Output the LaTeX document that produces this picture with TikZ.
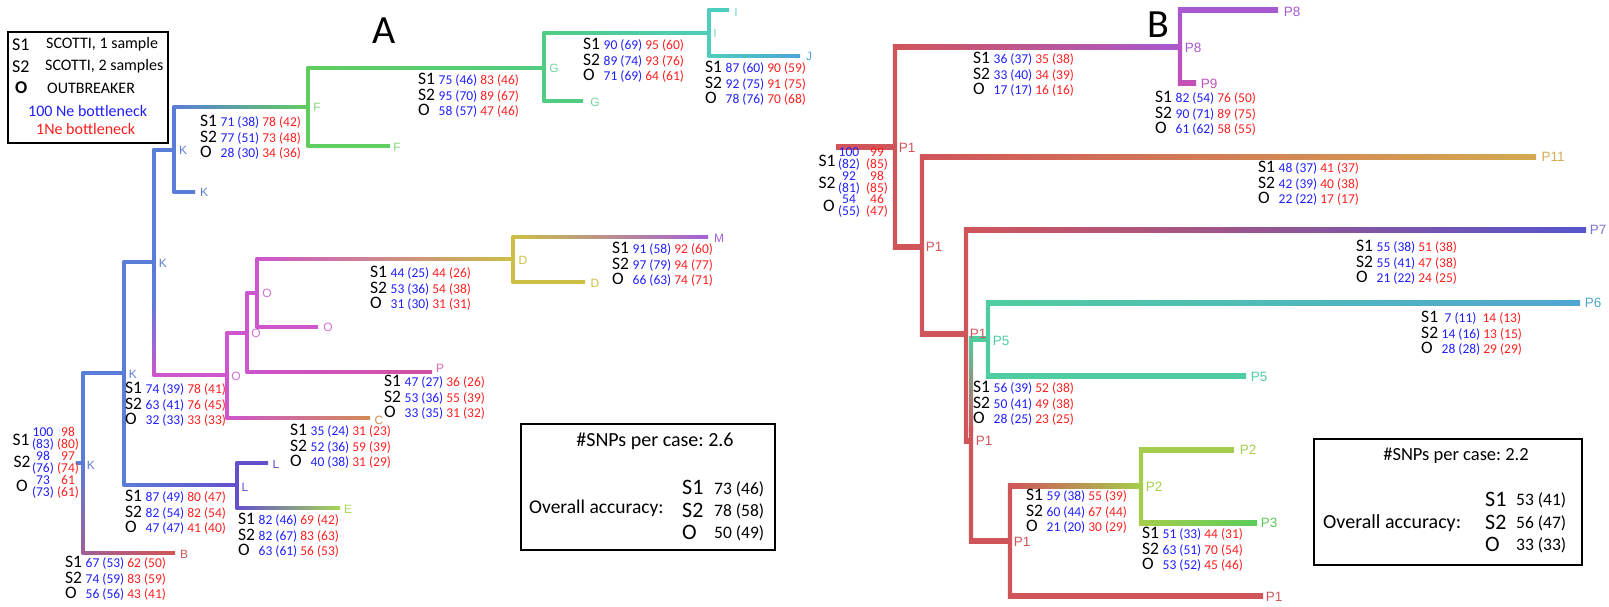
\documentclass[tikz,border=0pt]{standalone}
\usepackage{fontspec}
\setmainfont{Carlito}
\newfontfamily\arialf{Liberation Sans}
\frenchspacing
\definecolor{nblue}{RGB}{30,30,255}
\definecolor{nred}{RGB}{255,30,30}
\definecolor{kblue}{RGB}{90,125,215}
\definecolor{fgreen}{RGB}{95,205,95}
\definecolor{ggreen}{RGB}{80,205,130}
\definecolor{iteal}{RGB}{78,205,190}
\definecolor{jblue}{RGB}{75,165,215}
\definecolor{omag}{RGB}{205,85,205}
\definecolor{dyel}{RGB}{205,190,70}
\definecolor{mpur}{RGB}{165,95,215}
\definecolor{ppink}{RGB}{210,80,160}
\definecolor{corange}{RGB}{210,140,85}
\definecolor{lpur}{RGB}{100,80,205}
\definecolor{egreen}{RGB}{165,215,85}
\definecolor{bred}{RGB}{210,85,85}
\definecolor{bmauve}{RGB}{160,95,150}
\definecolor{p1red}{RGB}{208,85,90}
\definecolor{p8pur}{RGB}{168,88,208}
\definecolor{p9mag}{RGB}{195,80,180}
\definecolor{p11gold}{RGB}{212,170,80}
\definecolor{p7blue}{RGB}{85,85,205}
\definecolor{p6blue}{RGB}{80,165,210}
\definecolor{p5teal}{RGB}{80,205,160}
\definecolor{p2yg}{RGB}{165,205,75}
\definecolor{p3green}{RGB}{90,205,90}
\newcommand\kk[1]{\makebox[20.5pt][l]{\fontsize{17.5}{17}\selectfont #1}}
\newcommand\bl[1]{{\color{nblue}#1}}
\newcommand\rd[1]{{\color{nred}#1}}
\newcommand\stat[9]{%
 \node[st] (#1a) at (#2,#3+5.5) {\kk{S1}\bl{#4} \rd{#5}};
 \node[st] (#1b) at (#2,#3+21) {\kk{S2}\bl{#6} \rd{#7}};
 \node[st] (#1c) at (#2,#3+36.5) {\kk{O}\bl{#8} \rd{#9}};}
\newcommand\hb[6]{\shade[left color=#5,right color=#6] (#1,#3-#4/2) rectangle (#2,#3+#4/2);}
\newcommand\vb[6]{\shade[top color=#5,bottom color=#6] (#1-#4/2,#2-#4/2) rectangle (#1+#4/2,#3+#4/2);}
\tikzset{
 st/.style={anchor=base west,inner sep=0pt,font=\fontsize{13.5}{14}\selectfont},
 key/.style={inner sep=0pt,font=\fontsize{17.5}{17}\selectfont},
 stk/.style={inner sep=0pt,align=center,font=\fontsize{13.5}{12}\selectfont},
 nla/.style={inner sep=0pt,font=\arialf\fontsize{12}{12}\selectfont},
 nlb/.style={inner sep=0pt,font=\arialf\fontsize{13.5}{13.5}\selectfont},
 box/.style={draw=black,line width=2pt},
 lgt/.style={anchor=west,inner sep=0pt,font=\fontsize{16}{16}\selectfont},
}
\begin{document}
\begin{tikzpicture}[x=1pt,y=-1pt]
\useasboundingbox (0,0) rectangle (1609,606);
\def\wa{3}
\def\wb{4.2}
% ---------------- Panel A ----------------
\node (tA) at (384,31) {\fontsize{40}{40}\selectfont A};
% legend
\draw[box] (8,32) rectangle (168,143);
\node[key,anchor=west,font=\fontsize{18}{18}\selectfont] (lg1) at (12,45) {S1};
\node[key,anchor=west,font=\fontsize{18}{18}\selectfont] (lg2) at (12,67) {S2};
\node[key,anchor=west,font=\fontsize{18}{18}\selectfont] (lg3) at (15,88) {\bfseries O};
\node[lgt] (lt1) at (46,44) {SCOTTI, 1 sample};
\node[lgt] (lt2) at (45,66) {SCOTTI, 2 samples};
\node[lgt] (lt3) at (47,88) {OUTBREAKER};
\node[lgt,text=nblue] (lt4) at (28,111) {100 Ne bottleneck};
\node[lgt,text=nred] (lt5) at (36,129) {1Ne bottleneck};
% branches A
\hb{76}{83}{463}{\wa}{kblue}{kblue}
\vb{83}{373}{463}{\wa}{kblue}{kblue}
\vb{83}{463}{553}{\wa}{kblue}{bmauve}
\hb{83}{175}{553}{\wa}{bmauve}{bred}
\hb{83}{124}{373}{\wa}{kblue}{kblue}
\vb{124}{262}{485}{\wa}{kblue}{kblue}
\hb{124}{154}{262}{\wa}{kblue}{kblue}
\vb{154}{150}{300}{\wa}{kblue}{kblue}
\vb{154}{300}{375}{\wa}{kblue}{omag}
\hb{154}{227}{375}{\wa}{omag}{omag}
\hb{154}{174}{150}{\wa}{kblue}{kblue}
\vb{174}{107}{192}{\wa}{kblue}{kblue}
\hb{174}{195}{192}{\wa}{kblue}{kblue}
\hb{174}{308}{107}{\wa}{kblue}{fgreen}
\vb{308}{68}{146}{\wa}{fgreen}{fgreen}
\hb{308}{390}{146}{\wa}{fgreen}{fgreen}
\hb{308}{544}{68}{\wa}{fgreen}{ggreen}
\vb{544}{33}{101}{\wa}{ggreen}{ggreen}
\hb{544}{583}{101}{\wa}{ggreen}{ggreen}
\hb{544}{709}{33}{\wa}{ggreen}{iteal}
\vb{709}{10}{56}{\wa}{iteal}{iteal}
\hb{709}{729}{10}{\wa}{iteal}{iteal}
\hb{709}{800}{56}{\wa}{iteal}{jblue}
\vb{227}{333}{418}{\wa}{omag}{omag}
\hb{227}{370}{418}{\wa}{omag}{corange}
\hb{227}{247}{333}{\wa}{omag}{omag}
\vb{247}{293}{372}{\wa}{omag}{omag}
\hb{247}{432}{372}{\wa}{omag}{ppink}
\hb{247}{257}{293}{\wa}{omag}{omag}
\vb{257}{259}{327}{\wa}{omag}{omag}
\hb{257}{318}{327}{\wa}{omag}{omag}
\hb{257}{513}{259}{\wa}{omag}{dyel}
\vb{513}{237}{282}{\wa}{dyel}{dyel}
\hb{513}{585}{282}{\wa}{dyel}{dyel}
\hb{513}{708}{237}{\wa}{dyel}{mpur}
\hb{124}{237}{485}{\wa}{kblue}{lpur}
\vb{237}{463}{508}{\wa}{lpur}{lpur}
\hb{237}{268}{463}{\wa}{lpur}{lpur}
\hb{237}{340}{508}{\wa}{lpur}{egreen}
% node labels A
\node[nla,text=kblue] (nK1) at (91,465) {K};
\node[nla,text=kblue] (nK2) at (133,374) {K};
\node[nla,text=kblue] (nK3) at (163,263) {K};
\node[nla,text=kblue] (nK4) at (183,150) {K};
\node[nla,text=kblue] (nK5) at (204,192) {K};
\node[nla,text=fgreen!80] (nF1) at (317,107) {F};
\node[nla,text=fgreen!80] (nF2) at (397,147) {F};
\node[nla,text=ggreen!80] (nG1) at (554,68) {G};
\node[nla,text=ggreen!80] (nG2) at (595,102) {G};
\node[nla,text=iteal!80] (nI1) at (715,33) {I};
\node[nla,text=iteal!80] (nI2) at (736,12) {I};
\node[nla,text=jblue] (nJ) at (809,56) {J};
\node[nla,text=omag!85] (nO1) at (236,376) {O};
\node[nla,text=omag!85] (nO2) at (256,333) {O};
\node[nla,text=omag!85] (nO3) at (267,293) {O};
\node[nla,text=omag!85] (nO4) at (328,327) {O};
\node[nla,text=ppink!85] (nP) at (440,368) {P};
\node[nla,text=corange] (nC) at (379,420) {C};
\node[nla,text=dyel] (nD1) at (523,260) {D};
\node[nla,text=dyel] (nD2) at (595,283) {D};
\node[nla,text=mpur] (nM) at (719,238) {M};
\node[nla,text=lpur] (nL1) at (276,464) {L};
\node[nla,text=lpur] (nL2) at (245,487) {L};
\node[nla,text=egreen] (nE) at (348,509) {E};
\node[nla,text=bred] (nB) at (184,554) {B};
% stats A
\stat{sF}{200}{121}{71 (38)}{78 (42)}{77 (51)}{73 (48)}{28 (30)}{34 (36)}
\stat{sG}{418}{79}{75 (46)}{83 (46)}{95 (70)}{89 (67)}{58 (57)}{47 (46)}
\stat{sI}{583}{44}{90 (69)}{95 (60)}{89 (74)}{93 (76)}{71 (69)}{64 (61)}
\stat{sJ}{705}{67}{87 (60)}{90 (59)}{92 (75)}{91 (75)}{78 (76)}{70 (68)}
\stat{sD}{370}{272}{44 (25)}{44 (26)}{53 (36)}{54 (38)}{31 (30)}{31 (31)}
\stat{sM}{612}{248}{91 (58)}{92 (60)}{97 (79)}{94 (77)}{66 (63)}{74 (71)}
\stat{sP}{384}{381}{47 (27)}{36 (26)}{53 (36)}{55 (39)}{33 (35)}{31 (32)}
\stat{sO}{125}{388}{74 (39)}{78 (41)}{63 (41)}{76 (45)}{32 (33)}{33 (33)}
\stat{sC}{290}{430}{35 (24)}{31 (23)}{52 (36)}{59 (39)}{40 (38)}{31 (29)}
\stat{sL}{125}{496}{87 (49)}{80 (47)}{82 (54)}{82 (54)}{47 (47)}{41 (40)}
\stat{sE}{238}{519}{82 (46)}{69 (42)}{82 (67)}{83 (63)}{63 (61)}{56 (53)}
\stat{sB}{65}{562}{67 (53)}{62 (50)}{74 (59)}{83 (59)}{56 (56)}{43 (41)}
% root A
\node[key] (rA1) at (21,440) {S1};
\node[key] (rA2) at (22,462) {S2};
\node[key] (rA3) at (22,486) {O};
\node[stk,text=nblue] (rA1b) at (43,439) {100\\(83)};
\node[stk,text=nred] (rA1r) at (68,439) {98\\(80)};
\node[stk,text=nblue] (rA2b) at (43,463) {98\\(76)};
\node[stk,text=nred] (rA2r) at (68,463) {97\\(74)};
\node[stk,text=nblue] (rA3b) at (43,487) {73\\(73)};
\node[stk,text=nred] (rA3r) at (68,487) {61\\(61)};
% accuracy A
\draw[box] (521,424) rectangle (775,550);
\node[inner sep=0pt,font=\fontsize{20}{20}\selectfont] (aA1) at (655,441) {\#SNPs per case: 2.6};
\node[inner sep=0pt,anchor=west,font=\fontsize{19.5}{20}\selectfont] (aA2) at (529,508) {Overall accuracy:};
\node[inner sep=0pt,anchor=west,font=\fontsize{22}{22}\selectfont] (aA3) at (682,487) {S1};
\node[inner sep=0pt,anchor=west,font=\fontsize{22}{22}\selectfont] (aA4) at (682,510) {S2};
\node[inner sep=0pt,anchor=west,font=\fontsize{22}{22}\selectfont] (aA5) at (682,532) {O};
\node[inner sep=0pt,anchor=west,font=\fontsize{17.5}{17.5}\selectfont] (aA6) at (714,489) {73 (46)};
\node[inner sep=0pt,anchor=west,font=\fontsize{17.5}{17.5}\selectfont] (aA7) at (714,511) {78 (58)};
\node[inner sep=0pt,anchor=west,font=\fontsize{17.5}{17.5}\selectfont] (aA8) at (714,533) {50 (49)};
% ---------------- Panel B ----------------
\node (tB) at (1158,25) {\fontsize{40}{40}\selectfont B};
\hb{836}{895}{147}{\wb}{p1red}{p1red}
\vb{895}{47}{247}{\wb}{p1red}{p1red}
\hb{895}{1180}{47}{\wb}{p1red}{p8pur}
\vb{1180}{10}{83}{\wb}{p8pur}{p9mag}
\hb{1180}{1278}{10}{\wb}{p8pur}{p8pur}
\hb{1180}{1196}{83}{\wb}{p9mag}{p9mag}
\hb{895}{922}{247}{\wb}{p1red}{p1red}
\vb{922}{157}{334}{\wb}{p1red}{p1red}
\hb{922}{1536}{157}{\wb}{p1red}{p11gold}
\hb{922}{966}{334}{\wb}{p1red}{p1red}
\vb{966}{230}{441}{\wb}{p1red}{p1red}
\hb{966}{1586}{230}{\wb}{p1red}{p7blue}
\hb{966}{971}{441}{\wb}{p1red}{p1red}
\vb{971}{339}{430}{\wb}{p5teal}{p1red}
\vb{971}{430}{541}{\wb}{p1red}{p1red}
\hb{971}{988}{339}{\wb}{p5teal}{p5teal}
\vb{988}{303}{376}{\wb}{p5teal}{p5teal}
\hb{988}{1580}{303}{\wb}{p5teal}{p6blue}
\hb{988}{1246}{376}{\wb}{p5teal}{p5teal}
\hb{971}{1010}{541}{\wb}{p1red}{p1red}
\vb{1010}{486}{596}{\wb}{p1red}{p1red}
\hb{1010}{1263}{596}{\wb}{p1red}{p1red}
\hb{1010}{1141}{486}{\wb}{p1red}{p2yg}
\vb{1141}{450}{523}{\wb}{p2yg}{p2yg}
\hb{1141}{1234}{450}{\wb}{p2yg}{p2yg}
\hb{1141}{1257}{523}{\wb}{p2yg}{p3green}
% node labels B
\node[nlb,text=p1red] (bP1a) at (907,148) {P1};
\node[nlb,text=p8pur] (bP8a) at (1193,48) {P8};
\node[nlb,text=p8pur] (bP8b) at (1292,12) {P8};
\node[nlb,text=p9mag] (bP9) at (1209,84) {P9};
\node[nlb,text=p1red] (bP1b) at (934,247) {P1};
\node[nlb,text=p11gold] (bP11) at (1553,157) {P11};
\node[nlb,text=p1red] (bP1c) at (978,334) {P1};
\node[nlb,text=p5teal] (bP5a) at (1001,341) {P5};
\node[nlb,text=p6blue] (bP6) at (1593,303) {P6};
\node[nlb,text=p7blue!80] (bP7) at (1598,230) {P7};
\node[nlb,text=p5teal] (bP5b) at (1259,377) {P5};
\node[nlb,text=p1red] (bP1d) at (984,441) {P1};
\node[nlb,text=p1red] (bP1e) at (1022,542) {P1};
\node[nlb,text=p2yg] (bP2a) at (1154,487) {P2};
\node[nlb,text=p2yg] (bP2b) at (1248,450) {P2};
\node[nlb,text=p3green] (bP3) at (1269,523) {P3};
\node[nlb,text=p1red] (bP1f) at (1274,597) {P1};
% stats B
\stat{s8}{973}{58}{36 (37)}{35 (38)}{33 (40)}{34 (39)}{17 (17)}{16 (16)}
\stat{s9}{1155}{97}{82 (54)}{76 (50)}{90 (71)}{89 (75)}{61 (62)}{58 (55)}
\stat{s11}{1258}{167}{48 (37)}{41 (37)}{42 (39)}{40 (38)}{22 (22)}{17 (17)}
\stat{s7}{1356}{246}{55 (38)}{51 (38)}{55 (41)}{47 (38)}{21 (22)}{24 (25)}
\stat{s6}{1421}{317}{\hspace{3pt}7 (11)\hspace{3pt}}{14 (13)}{14 (16)}{13 (15)}{28 (28)}{29 (29)}
\stat{s5}{973}{387}{56 (39)}{52 (38)}{50 (41)}{49 (38)}{28 (25)}{23 (25)}
\stat{s2}{1026}{495}{59 (38)}{55 (39)}{60 (44)}{67 (44)}{21 (20)}{30 (29)}
\stat{s3}{1142}{533}{51 (33)}{44 (31)}{63 (51)}{70 (54)}{53 (52)}{45 (46)}
% root B
\node[key] (rB1) at (827,161) {S1};
\node[key] (rB2) at (827,183) {S2};
\node[key] (rB3) at (829,206) {O};
\node[stk,text=nblue] (rB1b) at (849,159) {100\\(82)};
\node[stk,text=nred] (rB1r) at (877,159) {99\\(85)};
\node[stk,text=nblue] (rB2b) at (849,183) {92\\(81)};
\node[stk,text=nred] (rB2r) at (877,183) {98\\(85)};
\node[stk,text=nblue] (rB3b) at (849,206) {54\\(55)};
\node[stk,text=nred] (rB3r) at (877,206) {46\\(47)};
% accuracy B
\draw[box] (1314,439) rectangle (1582,565);
\node[inner sep=0pt,font=\fontsize{18.5}{18.5}\selectfont] (aB1) at (1456,456) {\#SNPs per case: 2.2};
\node[inner sep=0pt,anchor=west,font=\fontsize{20}{20}\selectfont] (aB2) at (1323,523) {Overall accuracy:};
\node[inner sep=0pt,anchor=west,font=\fontsize{22}{22}\selectfont] (aB3) at (1485,499) {S1};
\node[inner sep=0pt,anchor=west,font=\fontsize{22}{22}\selectfont] (aB4) at (1485,522) {S2};
\node[inner sep=0pt,anchor=west,font=\fontsize{22}{22}\selectfont] (aB5) at (1485,544) {O};
\node[inner sep=0pt,anchor=west,font=\fontsize{17.5}{17.5}\selectfont] (aB6) at (1516,500) {53 (41)};
\node[inner sep=0pt,anchor=west,font=\fontsize{17.5}{17.5}\selectfont] (aB7) at (1516,523) {56 (47)};
\node[inner sep=0pt,anchor=west,font=\fontsize{17.5}{17.5}\selectfont] (aB8) at (1516,545) {33 (33)};
\end{tikzpicture}
\end{document}
